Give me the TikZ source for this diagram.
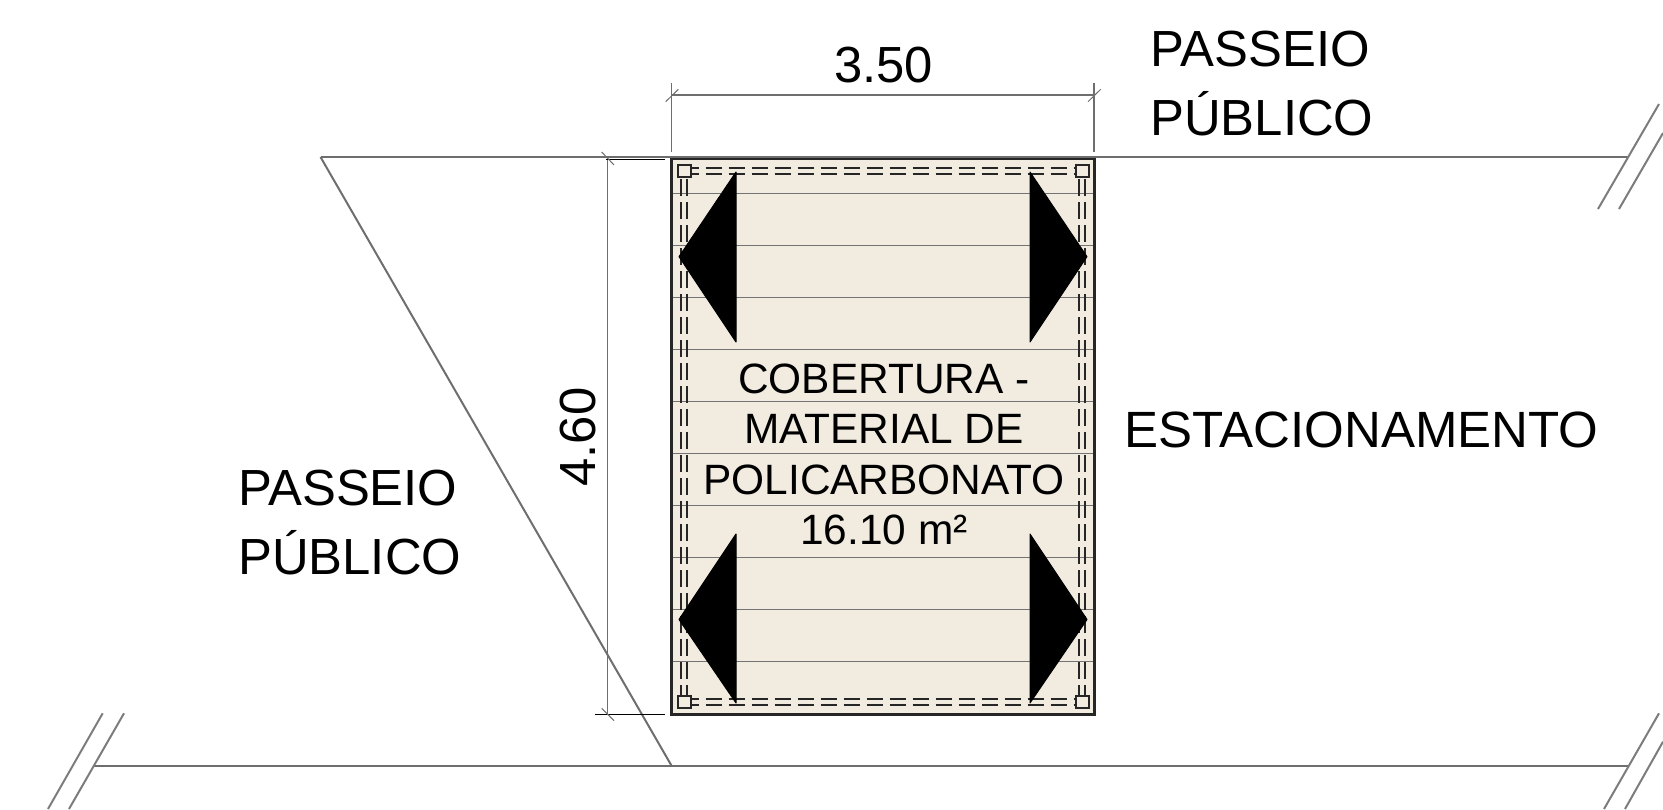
\documentclass[tikz,border=0pt]{standalone}
\usepackage{fontspec}
\setmainfont{Liberation Sans}
\usepackage{xcolor}
\definecolor{roofcolor}{HTML}{F1EBE0}
\definecolor{linecolor}{HTML}{6E6E6E}
\tikzset{
  site/.style={line width=2.4pt,linecolor},
  breakline/.style={line width=2pt,linecolor!90},
  dimline/.style={line width=1.5pt,linecolor},
  purlin/.style={line width=1pt,black!55},
  beamline/.style={line width=2.2pt,black!85,dash pattern=on 16.6pt off 6.4pt},
  pillar/.style={draw=black!85,line width=2pt,fill=roofcolor},
  arrowhead/.style={fill=black,draw=black,line width=1pt,line join=round},
  bigtext/.style={inner sep=0pt,anchor=base west,font=\fontsize{50.8}{50.8}\selectfont},
  roofttext/.style={inner sep=0pt,anchor=base,font=\fontsize{42.4}{42.4}\selectfont},
}

\begin{document}
\begin{tikzpicture}[x=1pt,y=-1pt]
    \useasboundingbox (0,0) rectangle (1663,809);

    % Coordonnees de la cobertura et du terrain
    \coordinate (NW) at (671.7,158);
    \coordinate (NE) at (1094,158);
    \coordinate (SW) at (671.7,714);
    \coordinate (SE) at (1094,714);
    \coordinate (lotA) at (320.5,157);
    \coordinate (lotB) at (1628,157);
    \coordinate (lotC) at (93,766);
    \coordinate (lotD) at (1628,766);
    \coordinate (lotE) at (671.7,766);

    % Cobertura
    \fill[roofcolor] (NW) rectangle (SE);
    \foreach \y in {193,245,297,349,401,453,505,557,609,661}
        \draw[purlin] (671.7,\y) -- (1094,\y);

    % Vigas tracejadas
    \draw[beamline,dash phase=1.5pt] (684,168.3) -- (1082.5,168.3);
    \draw[beamline,dash phase=1.5pt] (684,174.3) -- (1082.5,174.3);
    \draw[beamline,dash phase=1.5pt] (684,699.3) -- (1082.5,699.3);
    \draw[beamline,dash phase=1.5pt] (684,705.3) -- (1082.5,705.3);
    \draw[beamline,dash phase=15pt] (681,171) -- (681,702);
    \draw[beamline,dash phase=15pt] (687,171) -- (687,702);
    \draw[beamline,dash phase=15pt] (1079.3,171) -- (1079.3,702);
    \draw[beamline,dash phase=15pt] (1085.3,171) -- (1085.3,702);

    % Pilares
    \draw[pillar] (677.7,165) rectangle (690.7,177);
    \draw[pillar] (1076,165) rectangle (1088.7,177);
    \draw[pillar] (677.7,696) rectangle (690.7,708);
    \draw[pillar] (1076,696) rectangle (1088.7,708);

    % Setas de caimento
    \draw[arrowhead] (736,172) -- (679,256.7) -- (736,342) -- cycle;
    \draw[arrowhead] (1030,172) -- (1087,256.7) -- (1030,342) -- cycle;
    \draw[arrowhead] (736,534) -- (679,619.5) -- (736,703) -- cycle;
    \draw[arrowhead] (1030,534) -- (1087,619.5) -- (1030,703) -- cycle;

    \draw[line width=3pt,black!85] (NW) rectangle (SE);

    % Limites do terreno
    \draw[site] (lotA) -- (lotB);
    \draw[site] (lotC) -- (lotD);
    \draw[site,line width=2pt] (lotA) -- (lotE);
    \draw[breakline] (1659,104) -- (1598,209);
    \draw[breakline] (1663,133) -- (1619,209);
    \draw[breakline] (102.7,713.3) -- (48,809);
    \draw[breakline] (124,713.3) -- (69,809);
    \draw[breakline] (1659,713.3) -- (1604,809);
    \draw[breakline] (1663,741.7) -- (1625,809);

    % Cotas
    \draw[dimline] (671.7,95) -- (1094,95);
    \draw[dimline] (671.7,83) -- (671.7,152);
    \draw[dimline] (1094,83) -- (1094,152);
    \draw[dimline,line width=1pt] (665.7,101.7) -- (678.3,89.3);
    \draw[dimline,line width=1pt] (1088,101.7) -- (1100.7,89.3);
    \draw[dimline] (607.7,157) -- (607.7,714);
    \draw[line width=1pt,black] (606,159) -- (665,159);
    \draw[line width=1pt,black] (595,714.3) -- (665,714.3);
    \draw[dimline,line width=1pt] (601.7,152) -- (614,165);
    \draw[dimline,line width=1pt] (601.7,708.3) -- (614,720.7);

    % Textos
    \node[bigtext,anchor=base] (dimW) at (883.6,82) {3.50};
    \node[bigtext,anchor=base,rotate=90] (dimH) at (595,437) {4.60};
    \node[bigtext] (passeioA) at (1150.2,66) {PASSEIO};
    \node[bigtext] (publicoA) at (1150.2,135) {PÚBLICO};
    \node[bigtext] (passeioB) at (238,505) {PASSEIO};
    \node[bigtext] (publicoB) at (238,574) {PÚBLICO};
    \node[bigtext,font=\fontsize{51}{51}\selectfont] (parking) at (1124,447.5) {ESTACIONAMENTO};
    \node[roofttext] (roofA) at (884,393.5) {COBERTURA -};
    \node[roofttext] (roofB) at (884,443) {MATERIAL DE};
    \node[roofttext] (roofC) at (884,494) {POLICARBONATO};
    \node[roofttext] (roofD) at (884,544.5) {16.10 m²};
\end{tikzpicture}
\end{document}
